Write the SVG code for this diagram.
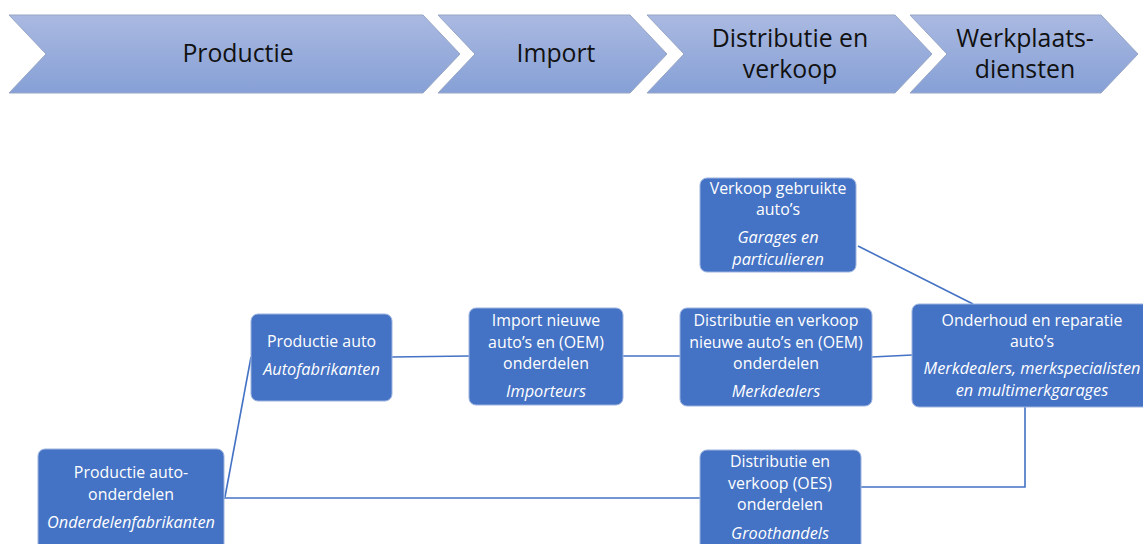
<svg xmlns="http://www.w3.org/2000/svg" width="1143" height="544" viewBox="0 0 1143 544">
<defs>
<linearGradient id="chev" x1="0" y1="0" x2="0" y2="1">
<stop offset="0" stop-color="#AAB9E1"/>
<stop offset="1" stop-color="#86A0D6"/>
</linearGradient>
<style>
.chev{fill:url(#chev);stroke:#97A6C6;stroke-width:1}
.ct{font-family:"Open Sans","Noto Sans",sans-serif;font-size:24.8px;fill:#111;text-anchor:middle}
.box{fill:#4472C4;stroke:#9DB3E0;stroke-width:1}
.t{font-family:"Open Sans","Noto Sans",sans-serif;font-size:15.9px;fill:#fff;text-anchor:middle}
.i{font-style:italic;font-size:16.3px}
.ln{fill:none;stroke:#4472C4;stroke-width:1.6}
</style>
</defs>
<rect width="1143" height="544" fill="#fff"/>
<g id="stages">
<g id="stage-productie"><polygon class="chev" points="9,15 423,15 460,54 423,93 9,93 46,54"/><text class="ct" x="238" y="62">Productie</text></g>
<g id="stage-import"><polygon class="chev" points="438,15 630,15 667,54 630,93 438,93 475,54"/><text class="ct" x="556" y="62">Import</text></g>
<g id="stage-distributie"><polygon class="chev" points="647,15 895,15 932,54 895,93 647,93 684,54"/><text class="ct" x="790" y="47">Distributie en</text><text class="ct" x="790" y="78">verkoop</text></g>
<g id="stage-werkplaats"><polygon class="chev" points="910,15 1101,15 1138,54 1101,93 910,93 947,54"/><text class="ct" x="1025" y="47">Werkplaats-</text><text class="ct" x="1025" y="78">diensten</text></g>
</g>
<g id="connectors">
<line class="ln" x1="225" y1="497" x2="251" y2="357"/>
<line class="ln" x1="224" y1="498" x2="700" y2="498"/>
<line class="ln" x1="392" y1="357" x2="469" y2="356"/>
<line class="ln" x1="623" y1="356" x2="680" y2="356"/>
<line class="ln" x1="872" y1="357" x2="912" y2="355"/>
<line class="ln" x1="858" y1="246" x2="973" y2="304"/>
<polyline class="ln" points="861,487 1025,487 1025,407"/>
</g>
<g id="node-onderdelen">
<rect class="box" x="38" y="449" width="186" height="110" rx="7"/>
<text class="t" x="131" y="478">Productie auto-</text>
<text class="t" x="131" y="500">onderdelen</text>
<text class="t i" x="131" y="528">Onderdelenfabrikanten</text>
</g>
<g id="node-productie-auto">
<rect class="box" x="251" y="314" width="141" height="87" rx="7"/>
<text class="t" x="321.5" y="347">Productie auto</text>
<text class="t i" x="321.5" y="375">Autofabrikanten</text>
</g>
<g id="node-import">
<rect class="box" x="469" y="308" width="154" height="97" rx="7"/>
<text class="t" x="546" y="326">Import nieuwe</text>
<text class="t" x="546" y="347.5">auto’s en (OEM)</text>
<text class="t" x="546" y="369">onderdelen</text>
<text class="t i" x="546" y="397">Importeurs</text>
</g>
<g id="node-distributie-oem">
<rect class="box" x="680" y="308" width="192" height="98" rx="7"/>
<text class="t" x="776" y="326">Distributie en verkoop</text>
<text class="t" x="776" y="347.5">nieuwe auto’s en (OEM)</text>
<text class="t" x="776" y="369">onderdelen</text>
<text class="t i" x="776" y="397">Merkdealers</text>
</g>
<g id="node-distributie-oes">
<rect class="box" x="700" y="450" width="161" height="110" rx="7"/>
<text class="t" x="780" y="467">Distributie en</text>
<text class="t" x="780" y="488.5">verkoop (OES)</text>
<text class="t" x="780" y="510">onderdelen</text>
<text class="t i" x="780" y="539">Groothandels</text>
</g>
<g id="node-gebruikte">
<rect class="box" x="700" y="178" width="156" height="94" rx="7"/>
<text class="t" x="778" y="193.5">Verkoop gebruikte</text>
<text class="t" x="778" y="215">auto’s</text>
<text class="t i" x="778" y="243">Garages en</text>
<text class="t i" x="778" y="264.5">particulieren</text>
</g>
<g id="node-onderhoud">
<rect class="box" x="912" y="304" width="242" height="103" rx="7"/>
<text class="t" x="1032" y="325.5">Onderhoud en reparatie</text>
<text class="t" x="1032" y="347">auto’s</text>
<text class="t i" x="1032" y="374">Merkdealers, merkspecialisten</text>
<text class="t i" x="1032" y="395.5">en multimerkgarages</text>
</g>
</svg>
